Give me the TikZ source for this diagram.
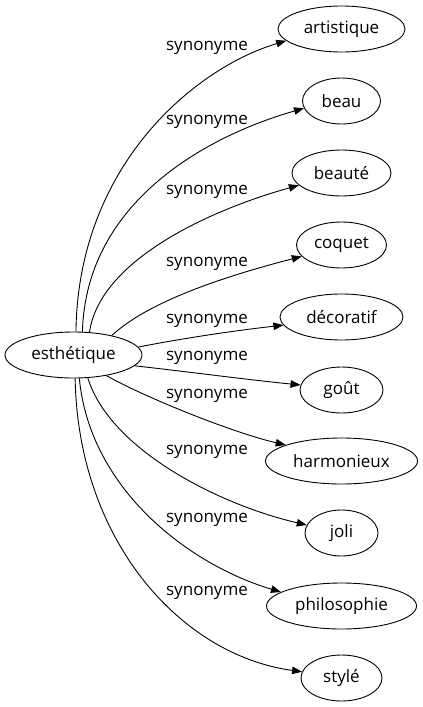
\documentclass[tikz,border=0pt]{standalone}
\usepackage{fontspec}
\setmainfont{Open Sans}
\usetikzlibrary{arrows.meta,shapes.geometric}
\begin{document}
\begin{tikzpicture}[x=1pt,y=-1pt,
  word/.style={ellipse, draw, line width=0.9pt, inner sep=0pt, minimum height=46pt, font=\fontsize{17}{20}\selectfont},
  rel/.style={font=\fontsize{17}{20}\selectfont, inner sep=0pt},
  link/.style={line width=0.9pt, -{Triangle[length=10pt,width=7.5pt]}}]
\useasboundingbox (0,0) rectangle (423,707);
\node[word, minimum width=137pt] (root) at (73.5,355) {esthétique};
\node[word, minimum width=127pt] (art) at (341.5,29) {artistique};
\node[word, minimum width=78pt] (beau) at (341.5,101) {beau};
\node[word, minimum width=99pt] (beaute) at (341.5,173) {beauté};
\node[word, minimum width=90pt] (coquet) at (341.5,245) {coquet};
\node[word, minimum width=123pt] (deco) at (341.5,317) {décoratif};
\node[word, minimum width=83pt] (gout) at (341.5,390) {goût};
\node[word, minimum width=152pt] (harm) at (341.5,461) {harmonieux};
\node[word, minimum width=73pt] (joli) at (341.5,533) {joli};
\node[word, minimum width=150pt] (philo) at (341.5,606) {philosophie};
\node[word, minimum width=81pt] (style) at (341.5,678) {stylé};

\draw[link] (root.84) .. controls (78,165) and (195,68) .. (art.192);
\draw[link] (root.69) .. controls (86,200) and (210,135) .. (beau.191);
\draw[link] (root.55) .. controls (100,260) and (210,210) .. (beaute.196);
\draw[link] (root.27) .. controls (150,300) and (230,275) .. (coquet.196);
\draw[link] (root.7.6) .. controls (190,337) and (240,330) .. (deco.188);
\draw[link] (root.-10.6) .. controls (190,372) and (250,380) .. (gout.173);
\draw[link] (root.-32.4) .. controls (140,395) and (230,432) .. (harm.164);
\draw[link] (root.-58.5) .. controls (110,450) and (220,505) .. (joli.167);
\draw[link] (root.-76) .. controls (90,490) and (190,565) .. (philo.167);
\draw[link] (root.-86) .. controls (78,540) and (180,655) .. (style.171);

\node[rel] (l1) at (207,48) {synonyme};
\node[rel] (l2) at (207,122) {synonyme};
\node[rel] (l3) at (207,192) {synonyme};
\node[rel] (l4) at (207,264) {synonyme};
\node[rel] (l5) at (207,321) {synonyme};
\node[rel] (l6) at (207,358) {synonyme};
\node[rel] (l7) at (207,396) {synonyme};
\node[rel] (l8) at (207,452) {synonyme};
\node[rel] (l9) at (207,520) {synonyme};
\node[rel] (l10) at (207,593) {synonyme};
\end{tikzpicture}
\end{document}
